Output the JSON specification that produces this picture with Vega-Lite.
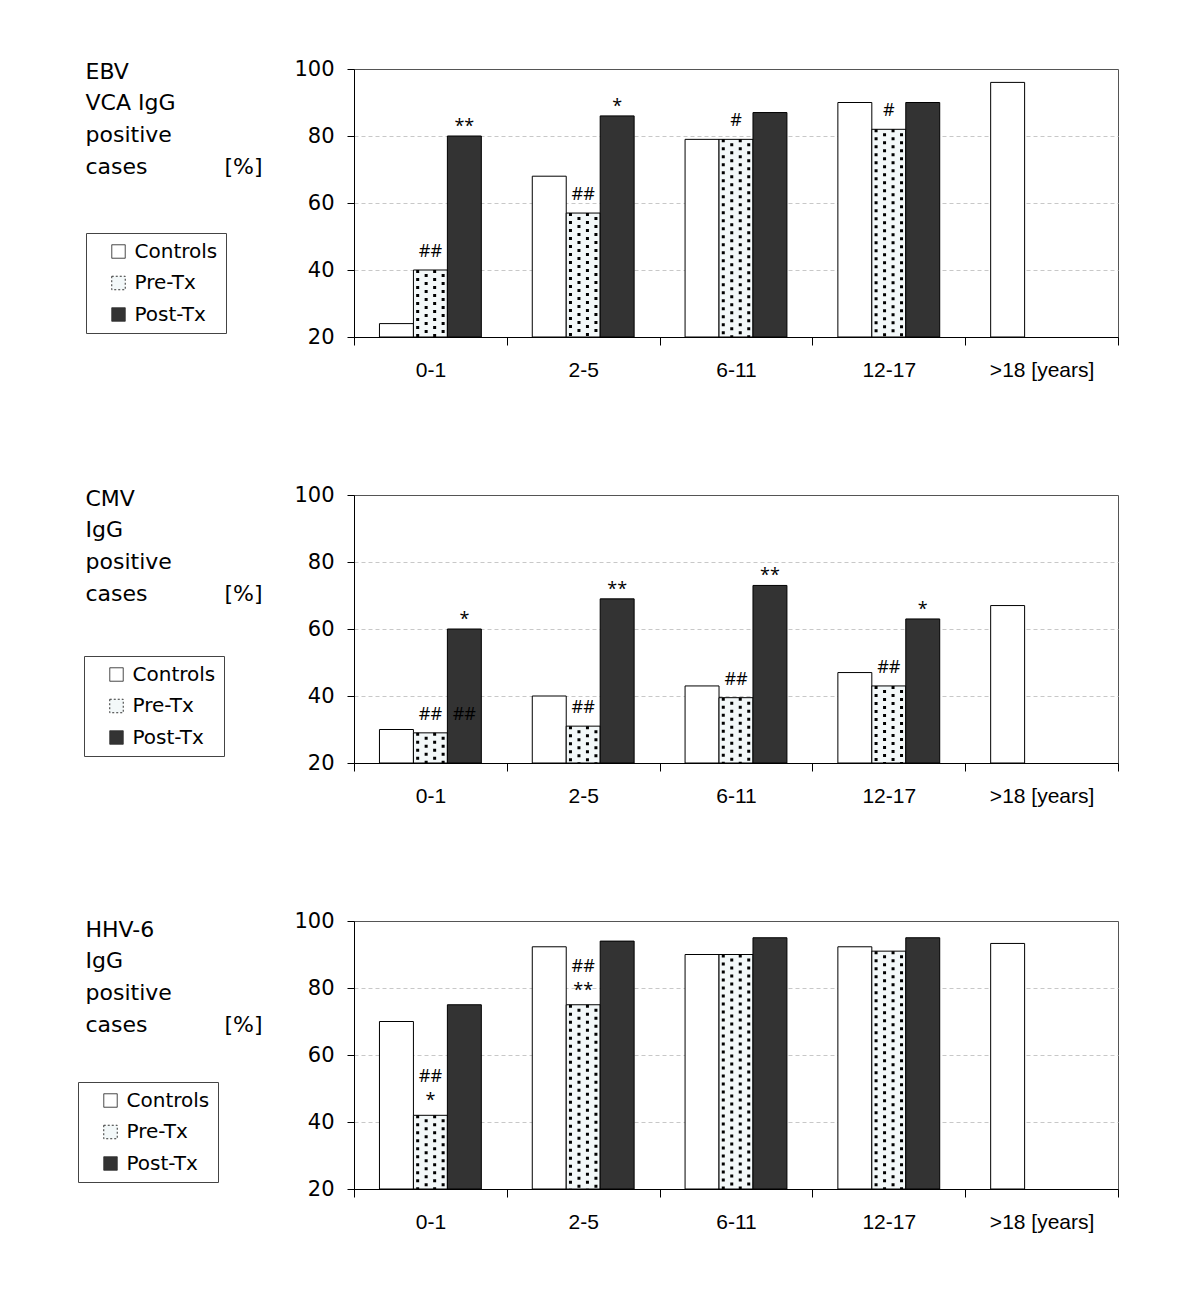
{
  "$schema": "https://vega.github.io/schema/vega-lite/v6.json",
  "background": "white",
  "padding": {"left": 77, "top": 57, "right": 10, "bottom": 10},
  "spacing": 158,
  "bounds": "flush",
  "resolve": {
    "scale": {"color": "independent", "x": "independent", "y": "independent", "xOffset": "independent"},
    "legend": {"color": "independent"}
  },
  "datasets": {
    "bars": [
      {"panel": "EBV", "age": "0-1", "series": "Controls", "value": 24},
      {"panel": "EBV", "age": "0-1", "series": "Pre-Tx", "value": 40},
      {"panel": "EBV", "age": "0-1", "series": "Post-Tx", "value": 80},
      {"panel": "EBV", "age": "2-5", "series": "Controls", "value": 68},
      {"panel": "EBV", "age": "2-5", "series": "Pre-Tx", "value": 57},
      {"panel": "EBV", "age": "2-5", "series": "Post-Tx", "value": 86},
      {"panel": "EBV", "age": "6-11", "series": "Controls", "value": 79},
      {"panel": "EBV", "age": "6-11", "series": "Pre-Tx", "value": 79},
      {"panel": "EBV", "age": "6-11", "series": "Post-Tx", "value": 87},
      {"panel": "EBV", "age": "12-17", "series": "Controls", "value": 90},
      {"panel": "EBV", "age": "12-17", "series": "Pre-Tx", "value": 82},
      {"panel": "EBV", "age": "12-17", "series": "Post-Tx", "value": 90},
      {"panel": "EBV", "age": ">18", "series": "Controls", "value": 96},
      {"panel": "CMV", "age": "0-1", "series": "Controls", "value": 30},
      {"panel": "CMV", "age": "0-1", "series": "Pre-Tx", "value": 29},
      {"panel": "CMV", "age": "0-1", "series": "Post-Tx", "value": 60},
      {"panel": "CMV", "age": "2-5", "series": "Controls", "value": 40},
      {"panel": "CMV", "age": "2-5", "series": "Pre-Tx", "value": 31},
      {"panel": "CMV", "age": "2-5", "series": "Post-Tx", "value": 69},
      {"panel": "CMV", "age": "6-11", "series": "Controls", "value": 43},
      {"panel": "CMV", "age": "6-11", "series": "Pre-Tx", "value": 39.5},
      {"panel": "CMV", "age": "6-11", "series": "Post-Tx", "value": 73},
      {"panel": "CMV", "age": "12-17", "series": "Controls", "value": 47},
      {"panel": "CMV", "age": "12-17", "series": "Pre-Tx", "value": 43},
      {"panel": "CMV", "age": "12-17", "series": "Post-Tx", "value": 63},
      {"panel": "CMV", "age": ">18", "series": "Controls", "value": 67},
      {"panel": "HHV-6", "age": "0-1", "series": "Controls", "value": 70},
      {"panel": "HHV-6", "age": "0-1", "series": "Pre-Tx", "value": 42},
      {"panel": "HHV-6", "age": "0-1", "series": "Post-Tx", "value": 75},
      {"panel": "HHV-6", "age": "2-5", "series": "Controls", "value": 92.3},
      {"panel": "HHV-6", "age": "2-5", "series": "Pre-Tx", "value": 75},
      {"panel": "HHV-6", "age": "2-5", "series": "Post-Tx", "value": 94},
      {"panel": "HHV-6", "age": "6-11", "series": "Controls", "value": 90},
      {"panel": "HHV-6", "age": "6-11", "series": "Pre-Tx", "value": 90},
      {"panel": "HHV-6", "age": "6-11", "series": "Post-Tx", "value": 95},
      {"panel": "HHV-6", "age": "12-17", "series": "Controls", "value": 92.3},
      {"panel": "HHV-6", "age": "12-17", "series": "Pre-Tx", "value": 91},
      {"panel": "HHV-6", "age": "12-17", "series": "Post-Tx", "value": 95},
      {"panel": "HHV-6", "age": ">18", "series": "Controls", "value": 93.3}
    ],
    "notes": [
      {"panel": "EBV", "age": "0-1", "series": "Pre-Tx", "label": "##", "value": 40},
      {"panel": "EBV", "age": "0-1", "series": "Post-Tx", "label": "**", "value": 80},
      {"panel": "EBV", "age": "2-5", "series": "Pre-Tx", "label": "##", "value": 57},
      {"panel": "EBV", "age": "2-5", "series": "Post-Tx", "label": "*", "value": 86},
      {"panel": "EBV", "age": "6-11", "series": "Pre-Tx", "label": "#", "value": 79},
      {"panel": "EBV", "age": "12-17", "series": "Pre-Tx", "label": "#", "value": 82},
      {"panel": "CMV", "age": "0-1", "series": "Pre-Tx", "label": "##", "value": 29},
      {"panel": "CMV", "age": "0-1", "series": "Post-Tx", "label": "##", "value": 29},
      {"panel": "CMV", "age": "0-1", "series": "Post-Tx", "label": "*", "value": 60},
      {"panel": "CMV", "age": "2-5", "series": "Pre-Tx", "label": "##", "value": 31},
      {"panel": "CMV", "age": "2-5", "series": "Post-Tx", "label": "**", "value": 69},
      {"panel": "CMV", "age": "6-11", "series": "Pre-Tx", "label": "##", "value": 39.5},
      {"panel": "CMV", "age": "6-11", "series": "Post-Tx", "label": "**", "value": 73},
      {"panel": "CMV", "age": "12-17", "series": "Pre-Tx", "label": "##", "value": 43},
      {"panel": "CMV", "age": "12-17", "series": "Post-Tx", "label": "*", "value": 63},
      {"panel": "HHV-6", "age": "0-1", "series": "Pre-Tx", "label": "##\n*", "value": 42},
      {"panel": "HHV-6", "age": "2-5", "series": "Pre-Tx", "label": "##\n**", "value": 75}
    ]
  },
  "vconcat": [
    {
      "width": 764, "height": 268,
      "data": {"name": "bars"},
      "transform": [{"filter": "datum.panel === 'EBV'"}],
      "encoding": {
        "x": {"field": "age", "type": "nominal", "scale": {"domain": ["0-1", "2-5", "6-11", "12-17", ">18"], "paddingInner": 0, "paddingOuter": 0}, "axis": {"title": null, "labelExpr": "datum.value === '>18' ? '>18 [years]' : datum.value"}},
        "y": {"field": "value", "type": "quantitative", "scale": {"domain": [20, 100], "nice": false, "zero": false}, "axis": {"values": [20, 40, 60, 80, 100], "gridColor": {"condition": {"test": "datum.value >= 100 || datum.value <= 20", "value": "transparent"}, "value": "#c8c8c8"}, "title": ["EBV", "VCA IgG", "positive", "cases\u00a0\u00a0\u00a0\u00a0\u00a0\u00a0\u00a0\u00a0\u00a0\u00a0\u00a0[%]"], "titleY": 9.3}}
      },
      "layer": [
        {"mark": {"type": "bar", "stroke": "black", "strokeWidth": 1},
         "encoding": {"xOffset": {"field": "series", "type": "nominal", "scale": {"domain": ["Controls", "Pre-Tx", "Post-Tx"], "paddingInner": 0, "paddingOuter": 0.75}}, "y2": {"datum": 20}, "color": {"field": "series", "type": "nominal", "scale": {"domain": ["Controls", "Pre-Tx", "Post-Tx"], "range": ["#ffffff", "#f3f8f9", "#333333"]}, "legend": {"title": null, "legendX": -268, "legendY": 164, "labelExpr": "datum.label + '\u00a0\u00a0'", "encode": {"symbols": {"update": {"strokeDash": {"signal": "datum.value === 'Pre-Tx' ? [2, 2] : [1, 0]"}}}}}}}},
        {"transform": [{"filter": "datum.series === 'Pre-Tx'"}], "mark": {"type": "rule", "stroke": "black", "strokeWidth": 3, "strokeDash": [3, 5], "strokeDashOffset": 0, "strokeCap": "butt"}, "encoding": {"x": {"field": "age", "type": "nominal", "bandPosition": 0.4167, "scale": {"domain": ["0-1", "2-5", "6-11", "12-17", ">18"], "paddingInner": 0, "paddingOuter": 0}, "axis": {"title": null, "labelExpr": "datum.value === '>18' ? '>18 [years]' : datum.value"}}, "y2": {"datum": 20}}},
        {"transform": [{"filter": "datum.series === 'Pre-Tx'"}], "mark": {"type": "rule", "stroke": "black", "strokeWidth": 3, "strokeDash": [3, 5], "strokeDashOffset": 4, "strokeCap": "butt"}, "encoding": {"x": {"field": "age", "type": "nominal", "bandPosition": 0.4722, "scale": {"domain": ["0-1", "2-5", "6-11", "12-17", ">18"], "paddingInner": 0, "paddingOuter": 0}, "axis": {"title": null, "labelExpr": "datum.value === '>18' ? '>18 [years]' : datum.value"}}, "y2": {"datum": 20}}},
        {"transform": [{"filter": "datum.series === 'Pre-Tx'"}], "mark": {"type": "rule", "stroke": "black", "strokeWidth": 3, "strokeDash": [3, 5], "strokeDashOffset": 0, "strokeCap": "butt"}, "encoding": {"x": {"field": "age", "type": "nominal", "bandPosition": 0.5278, "scale": {"domain": ["0-1", "2-5", "6-11", "12-17", ">18"], "paddingInner": 0, "paddingOuter": 0}, "axis": {"title": null, "labelExpr": "datum.value === '>18' ? '>18 [years]' : datum.value"}}, "y2": {"datum": 20}}},
        {"transform": [{"filter": "datum.series === 'Pre-Tx'"}], "mark": {"type": "rule", "stroke": "black", "strokeWidth": 3, "strokeDash": [3, 5], "strokeDashOffset": 4, "strokeCap": "butt"}, "encoding": {"x": {"field": "age", "type": "nominal", "bandPosition": 0.5833, "scale": {"domain": ["0-1", "2-5", "6-11", "12-17", ">18"], "paddingInner": 0, "paddingOuter": 0}, "axis": {"title": null, "labelExpr": "datum.value === '>18' ? '>18 [years]' : datum.value"}}, "y2": {"datum": 20}}},
        {"data": {"name": "notes"}, "transform": [{"filter": "datum.panel === 'EBV' && indexof(datum.label, '*') < 0"}], "mark": {"type": "text", "baseline": "bottom", "dy": -9, "font": "Open Sans", "fontSize": 18, "color": "black"}, "encoding": {"xOffset": {"field": "series", "type": "nominal", "scale": {"domain": ["Controls", "Pre-Tx", "Post-Tx"], "paddingInner": 0, "paddingOuter": 0.75}}, "text": {"field": "label"}}},
        {"data": {"name": "notes"}, "transform": [{"filter": "datum.panel === 'EBV' && indexof(datum.label, '*') >= 0 && indexof(datum.label, '#') < 0"}], "mark": {"type": "text", "baseline": "bottom", "dy": 0, "font": "Open Sans", "fontSize": 18, "color": "black"}, "encoding": {"xOffset": {"field": "series", "type": "nominal", "scale": {"domain": ["Controls", "Pre-Tx", "Post-Tx"], "paddingInner": 0, "paddingOuter": 0.75}}, "text": {"field": "label"}}}
      ]
    },
    {
      "width": 764, "height": 268,
      "data": {"name": "bars"},
      "transform": [{"filter": "datum.panel === 'CMV'"}],
      "encoding": {
        "x": {"field": "age", "type": "nominal", "scale": {"domain": ["0-1", "2-5", "6-11", "12-17", ">18"], "paddingInner": 0, "paddingOuter": 0}, "axis": {"title": null, "labelExpr": "datum.value === '>18' ? '>18 [years]' : datum.value"}},
        "y": {"field": "value", "type": "quantitative", "scale": {"domain": [20, 100], "nice": false, "zero": false}, "axis": {"values": [20, 40, 60, 80, 100], "gridColor": {"condition": {"test": "datum.value >= 100 || datum.value <= 20", "value": "transparent"}, "value": "#c8c8c8"}, "title": ["CMV", "IgG", "positive", "cases\u00a0\u00a0\u00a0\u00a0\u00a0\u00a0\u00a0\u00a0\u00a0\u00a0\u00a0[%]"], "titleY": 10.3}}
      },
      "layer": [
        {"mark": {"type": "bar", "stroke": "black", "strokeWidth": 1},
         "encoding": {"xOffset": {"field": "series", "type": "nominal", "scale": {"domain": ["Controls", "Pre-Tx", "Post-Tx"], "paddingInner": 0, "paddingOuter": 0.75}}, "y2": {"datum": 20}, "color": {"field": "series", "type": "nominal", "scale": {"domain": ["Controls", "Pre-Tx", "Post-Tx"], "range": ["#ffffff", "#f3f8f9", "#333333"]}, "legend": {"title": null, "legendX": -270, "legendY": 161, "labelExpr": "datum.label + '\u00a0\u00a0'", "encode": {"symbols": {"update": {"strokeDash": {"signal": "datum.value === 'Pre-Tx' ? [2, 2] : [1, 0]"}}}}}}}},
        {"transform": [{"filter": "datum.series === 'Pre-Tx'"}], "mark": {"type": "rule", "stroke": "black", "strokeWidth": 3, "strokeDash": [3, 5], "strokeDashOffset": 0, "strokeCap": "butt"}, "encoding": {"x": {"field": "age", "type": "nominal", "bandPosition": 0.4167, "scale": {"domain": ["0-1", "2-5", "6-11", "12-17", ">18"], "paddingInner": 0, "paddingOuter": 0}, "axis": {"title": null, "labelExpr": "datum.value === '>18' ? '>18 [years]' : datum.value"}}, "y2": {"datum": 20}}},
        {"transform": [{"filter": "datum.series === 'Pre-Tx'"}], "mark": {"type": "rule", "stroke": "black", "strokeWidth": 3, "strokeDash": [3, 5], "strokeDashOffset": 4, "strokeCap": "butt"}, "encoding": {"x": {"field": "age", "type": "nominal", "bandPosition": 0.4722, "scale": {"domain": ["0-1", "2-5", "6-11", "12-17", ">18"], "paddingInner": 0, "paddingOuter": 0}, "axis": {"title": null, "labelExpr": "datum.value === '>18' ? '>18 [years]' : datum.value"}}, "y2": {"datum": 20}}},
        {"transform": [{"filter": "datum.series === 'Pre-Tx'"}], "mark": {"type": "rule", "stroke": "black", "strokeWidth": 3, "strokeDash": [3, 5], "strokeDashOffset": 0, "strokeCap": "butt"}, "encoding": {"x": {"field": "age", "type": "nominal", "bandPosition": 0.5278, "scale": {"domain": ["0-1", "2-5", "6-11", "12-17", ">18"], "paddingInner": 0, "paddingOuter": 0}, "axis": {"title": null, "labelExpr": "datum.value === '>18' ? '>18 [years]' : datum.value"}}, "y2": {"datum": 20}}},
        {"transform": [{"filter": "datum.series === 'Pre-Tx'"}], "mark": {"type": "rule", "stroke": "black", "strokeWidth": 3, "strokeDash": [3, 5], "strokeDashOffset": 4, "strokeCap": "butt"}, "encoding": {"x": {"field": "age", "type": "nominal", "bandPosition": 0.5833, "scale": {"domain": ["0-1", "2-5", "6-11", "12-17", ">18"], "paddingInner": 0, "paddingOuter": 0}, "axis": {"title": null, "labelExpr": "datum.value === '>18' ? '>18 [years]' : datum.value"}}, "y2": {"datum": 20}}},
        {"data": {"name": "notes"}, "transform": [{"filter": "datum.panel === 'CMV' && indexof(datum.label, '*') < 0"}], "mark": {"type": "text", "baseline": "bottom", "dy": -9, "font": "Open Sans", "fontSize": 18, "color": "black"}, "encoding": {"xOffset": {"field": "series", "type": "nominal", "scale": {"domain": ["Controls", "Pre-Tx", "Post-Tx"], "paddingInner": 0, "paddingOuter": 0.75}}, "text": {"field": "label"}}},
        {"data": {"name": "notes"}, "transform": [{"filter": "datum.panel === 'CMV' && indexof(datum.label, '*') >= 0 && indexof(datum.label, '#') < 0"}], "mark": {"type": "text", "baseline": "bottom", "dy": 0, "font": "Open Sans", "fontSize": 18, "color": "black"}, "encoding": {"xOffset": {"field": "series", "type": "nominal", "scale": {"domain": ["Controls", "Pre-Tx", "Post-Tx"], "paddingInner": 0, "paddingOuter": 0.75}}, "text": {"field": "label"}}}
      ]
    },
    {
      "width": 764, "height": 268,
      "data": {"name": "bars"},
      "transform": [{"filter": "datum.panel === 'HHV-6'"}],
      "encoding": {
        "x": {"field": "age", "type": "nominal", "scale": {"domain": ["0-1", "2-5", "6-11", "12-17", ">18"], "paddingInner": 0, "paddingOuter": 0}, "axis": {"title": null, "labelExpr": "datum.value === '>18' ? '>18 [years]' : datum.value"}},
        "y": {"field": "value", "type": "quantitative", "scale": {"domain": [20, 100], "nice": false, "zero": false}, "axis": {"values": [20, 40, 60, 80, 100], "gridColor": {"condition": {"test": "datum.value >= 100 || datum.value <= 20", "value": "transparent"}, "value": "#c8c8c8"}, "title": ["HHV-6", "IgG", "positive", "cases\u00a0\u00a0\u00a0\u00a0\u00a0\u00a0\u00a0\u00a0\u00a0\u00a0\u00a0[%]"], "titleY": 15.3}}
      },
      "layer": [
        {"mark": {"type": "bar", "stroke": "black", "strokeWidth": 1},
         "encoding": {"xOffset": {"field": "series", "type": "nominal", "scale": {"domain": ["Controls", "Pre-Tx", "Post-Tx"], "paddingInner": 0, "paddingOuter": 0.75}}, "y2": {"datum": 20}, "color": {"field": "series", "type": "nominal", "scale": {"domain": ["Controls", "Pre-Tx", "Post-Tx"], "range": ["#ffffff", "#f3f8f9", "#333333"]}, "legend": {"title": null, "legendX": -276, "legendY": 161, "labelExpr": "datum.label + '\u00a0\u00a0'", "encode": {"symbols": {"update": {"strokeDash": {"signal": "datum.value === 'Pre-Tx' ? [2, 2] : [1, 0]"}}}}}}}},
        {"transform": [{"filter": "datum.series === 'Pre-Tx'"}], "mark": {"type": "rule", "stroke": "black", "strokeWidth": 3, "strokeDash": [3, 5], "strokeDashOffset": 0, "strokeCap": "butt"}, "encoding": {"x": {"field": "age", "type": "nominal", "bandPosition": 0.4167, "scale": {"domain": ["0-1", "2-5", "6-11", "12-17", ">18"], "paddingInner": 0, "paddingOuter": 0}, "axis": {"title": null, "labelExpr": "datum.value === '>18' ? '>18 [years]' : datum.value"}}, "y2": {"datum": 20}}},
        {"transform": [{"filter": "datum.series === 'Pre-Tx'"}], "mark": {"type": "rule", "stroke": "black", "strokeWidth": 3, "strokeDash": [3, 5], "strokeDashOffset": 4, "strokeCap": "butt"}, "encoding": {"x": {"field": "age", "type": "nominal", "bandPosition": 0.4722, "scale": {"domain": ["0-1", "2-5", "6-11", "12-17", ">18"], "paddingInner": 0, "paddingOuter": 0}, "axis": {"title": null, "labelExpr": "datum.value === '>18' ? '>18 [years]' : datum.value"}}, "y2": {"datum": 20}}},
        {"transform": [{"filter": "datum.series === 'Pre-Tx'"}], "mark": {"type": "rule", "stroke": "black", "strokeWidth": 3, "strokeDash": [3, 5], "strokeDashOffset": 0, "strokeCap": "butt"}, "encoding": {"x": {"field": "age", "type": "nominal", "bandPosition": 0.5278, "scale": {"domain": ["0-1", "2-5", "6-11", "12-17", ">18"], "paddingInner": 0, "paddingOuter": 0}, "axis": {"title": null, "labelExpr": "datum.value === '>18' ? '>18 [years]' : datum.value"}}, "y2": {"datum": 20}}},
        {"transform": [{"filter": "datum.series === 'Pre-Tx'"}], "mark": {"type": "rule", "stroke": "black", "strokeWidth": 3, "strokeDash": [3, 5], "strokeDashOffset": 4, "strokeCap": "butt"}, "encoding": {"x": {"field": "age", "type": "nominal", "bandPosition": 0.5833, "scale": {"domain": ["0-1", "2-5", "6-11", "12-17", ">18"], "paddingInner": 0, "paddingOuter": 0}, "axis": {"title": null, "labelExpr": "datum.value === '>18' ? '>18 [years]' : datum.value"}}, "y2": {"datum": 20}}},
        {"data": {"name": "notes"}, "transform": [{"filter": "datum.panel === 'HHV-6' && indexof(datum.label, '*') >= 0 && indexof(datum.label, '#') >= 0"}], "mark": {"type": "text", "baseline": "bottom", "dy": -29, "lineBreak": "\n", "lineHeight": 24, "font": "Open Sans", "fontSize": 18, "color": "black"}, "encoding": {"xOffset": {"field": "series", "type": "nominal", "scale": {"domain": ["Controls", "Pre-Tx", "Post-Tx"], "paddingInner": 0, "paddingOuter": 0.75}}, "text": {"field": "label"}}}
      ]
    }
  ],
  "config": {
    "view": {"stroke": "#555555", "strokeWidth": 1},
    "axis": {"domainColor": "black", "tickColor": "black", "labelColor": "black", "titleColor": "black", "domainWidth": 1, "tickWidth": 1},
    "axisX": {"tickSize": 8, "tickBand": "extent", "labelFont": "Liberation Sans", "labelFontSize": 21, "labelPadding": 14, "labelAngle": 0, "grid": false},
    "axisY": {"tickSize": 7, "labelPadding": 13, "labelFont": "DejaVu Sans", "labelFontSize": 21, "grid": true, "gridDash": [4, 3], "titleAngle": 0, "titleAlign": "left", "titleBaseline": "alphabetic", "titleFont": "DejaVu Sans", "titleFontSize": 22, "titleFontWeight": "normal", "titleLineHeight": 31.7, "titleX": -269},
    "legend": {"orient": "none", "strokeColor": "#444444", "fillColor": "white", "padding": 8.5, "symbolType": "square", "symbolSize": 182, "symbolStrokeColor": "#333333", "symbolStrokeWidth": 1, "symbolOffset": 14, "labelOffset": 6, "labelFont": "DejaVu Sans", "labelFontSize": 20, "labelColor": "black", "rowPadding": 11.5}
  }
}
